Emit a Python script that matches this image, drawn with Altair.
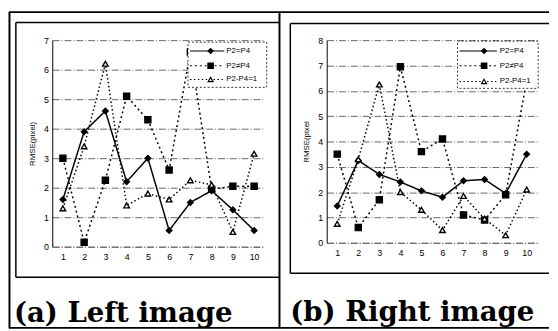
import altair as alt
import pandas as pd

# ---------------- data ----------------
x_vals = [1, 2, 3, 4, 5, 6, 7, 8, 9, 10]
series = ["P2=P4", "P2≠P4", "P2-P4=1"]

left_eq = [1.6, 3.9, 4.6, 2.2, 3.0, 0.55, 1.5, 1.9, 1.25, 0.55]
left_ne = [3.0, 0.15, 2.25, 5.1, 4.3, 2.6, 6.6, 1.95, 2.05, 2.05]
left_d1 = [1.3, 3.4, 6.2, 1.4, 1.8, 1.6, 2.25, 2.1, 0.5, 3.15]

right_eq = [1.45, 3.25, 2.7, 2.4, 2.05, 1.8, 2.45, 2.5, 1.95, 3.5]
right_ne = [3.5, 0.6, 1.7, 6.95, 3.6, 4.1, 1.1, 0.9, 1.9, 6.4]
right_d1 = [0.75, 3.3, 6.25, 2.0, 1.3, 0.5, 1.85, 0.95, 0.3, 2.1]

captions = ["(a) Left image", "(b) Right image"]
y_titles = ["RMSE(pixel)", "RMSE(pixel"]
y_max = [7, 8]

# ---------------- styles ----------------
GRID = "#666666"
DASHDOT = [7, 2, 1, 2]
dash = {"P2=P4": [1, 0], "P2≠P4": [2, 3], "P2-P4=1": [1.5, 2.5]}
shape = {"P2=P4": "diamond", "P2≠P4": "square", "P2-P4=1": "triangle-up"}
fill = {"P2=P4": "black", "P2≠P4": "black", "P2-P4=1": "white"}
size = {"P2=P4": 32, "P2≠P4": 38, "P2-P4=1": 32}
ONE = alt.Data(values=[{"k": 1}])


def panel(values, ymax, ytitle, caption, width, height, legend, frames, cap_xy):
    rows = []
    for name, vals in zip(series, values):
        for xv, yv in zip(x_vals, vals):
            rows.append({"x": xv, "y": yv, "s": name})
    df = pd.DataFrame(rows)

    xenc = alt.X(
        "x:Q",
        scale=alt.Scale(domain=[0.5, 10.5], nice=False, zero=False),
        axis=alt.Axis(values=x_vals, title=None, grid=False, ticks=False,
                      domainColor=GRID, domainDash=DASHDOT, domainWidth=1,
                      labelFontSize=9, labelPadding=6, labelColor="black",
                      labelFont="Liberation Sans"),
    )
    yenc = alt.Y(
        "y:Q",
        scale=alt.Scale(domain=[0, ymax], nice=False),
        axis=alt.Axis(values=list(range(ymax + 1)), title=ytitle, grid=True,
                      gridColor=GRID, gridDash=DASHDOT, gridWidth=1,
                      ticks=False, domainColor="black", domainWidth=1,
                      labelFontSize=9, labelPadding=4, labelColor="black",
                      labelFont="Liberation Sans", titleFont="Liberation Sans",
                      titleFontSize=8, titleFontWeight="normal",
                      titleColor="black", titlePadding=7),
    )

    layers = []
    # frames (decoration)
    for (x1, x2, y1, y2, w) in frames:
        layers.append(alt.Chart(ONE).mark_rule(color="black", strokeWidth=w).encode(
            x=alt.value(x1), x2=alt.value(x2), y=alt.value(y1), y2=alt.value(y2)))

    base = alt.Chart(df)
    for name in series:
        sub = base.transform_filter(alt.datum.s == name)
        layers.append(sub.mark_line(color="black", strokeWidth=1.5,
                                    strokeDash=dash[name]).encode(x=xenc, y=yenc))
    for name in series:
        sub = base.transform_filter(alt.datum.s == name)
        layers.append(sub.mark_point(shape=shape[name], filled=True, fill=fill[name],
                                     stroke="black", strokeWidth=1.4, size=size[name],
                                     opacity=1).encode(x=xenc, y=yenc))

    # legend box
    bx1, bx2, by1, by2, rows_y, lx1, lx2, mx, tx = legend
    layers.append(alt.Chart(ONE).mark_rect(fill="white", stroke="black", strokeWidth=0.8,
                                           strokeDash=[2, 2]).encode(
        x=alt.value(bx1), x2=alt.value(bx2), y=alt.value(by1), y2=alt.value(by2)))
    for name, ry in zip(series, rows_y):
        ldf = alt.Data(values=[{"s": name}])
        layers.append(alt.Chart(ldf).mark_rule(color="black", strokeWidth=1.2,
                                               strokeDash=dash[name]).encode(
            x=alt.value(lx1), x2=alt.value(lx2), y=alt.value(ry)))
        layers.append(alt.Chart(ldf).mark_point(shape=shape[name], filled=True, fill=fill[name],
                                                stroke="black", strokeWidth=1.2,
                                                size=size[name] * 0.8, opacity=1).encode(
            x=alt.value(mx), y=alt.value(ry)))
        layers.append(alt.Chart(ldf).mark_text(align="left", baseline="middle", fontSize=8,
                                               font="Liberation Sans", color="black").encode(
            x=alt.value(tx), y=alt.value(ry), text="s:N"))

    # caption
    cdf = alt.Data(values=[{"c": caption}])
    layers.append(alt.Chart(cdf).mark_text(align="left", baseline="alphabetic", fontSize=28,
                                           font="DejaVu Serif", fontWeight="bold",
                                           color="black").encode(
        x=alt.value(cap_xy[0]), y=alt.value(cap_xy[1]), text="c:N"))

    return alt.layer(*layers).properties(width=width, height=height)


# left panel origin at page (52, 37); right panel origin at page (331, 38)
left_frames = [
    (-44, 505, -28.5, -28.5, 2),      # outer top
    (-43.5, -43.5, -29, 293, 2),      # outer left
    (-44, 505, 292.5, 292.5, 2),      # outer bottom
    (231, 231, -29, 293, 2),          # divider
    (-37, 231, -18, -18, 1.5),        # inner box top
    (-37, 231, 241, 241, 1.5),        # inner box bottom
    (-37, -37, -18, 241, 1.5),        # inner box left
]
right_frames = [
    (-37, 226, -17, -17, 1.5),
    (-37, 226, 237, 237, 1.5),
    (-37, -37, -17, 237, 1.5),
]

left = panel([left_eq, left_ne, left_d1], y_max[0], y_titles[0], captions[0], 216, 210,
             (138, 218, 2, 48, [11, 26, 40], 140, 175, 161, 177),
             left_frames, (-39, 287))
right = panel([right_eq, right_ne, right_d1], y_max[1], y_titles[1], captions[1], 214, 206,
              (133, 215, 1, 49, [11, 26, 42], 135, 173, 160, 176),
              right_frames, (-37, 286))

chart = alt.hconcat(left, right, spacing=63, bounds="flush").properties(
    autosize=alt.AutoSizeParams(type="pad"),
    padding=0,
    background="white",
).configure_view(stroke=None)

chart.save("out.html", embed_options={"renderer": "svg", "actions": False})
